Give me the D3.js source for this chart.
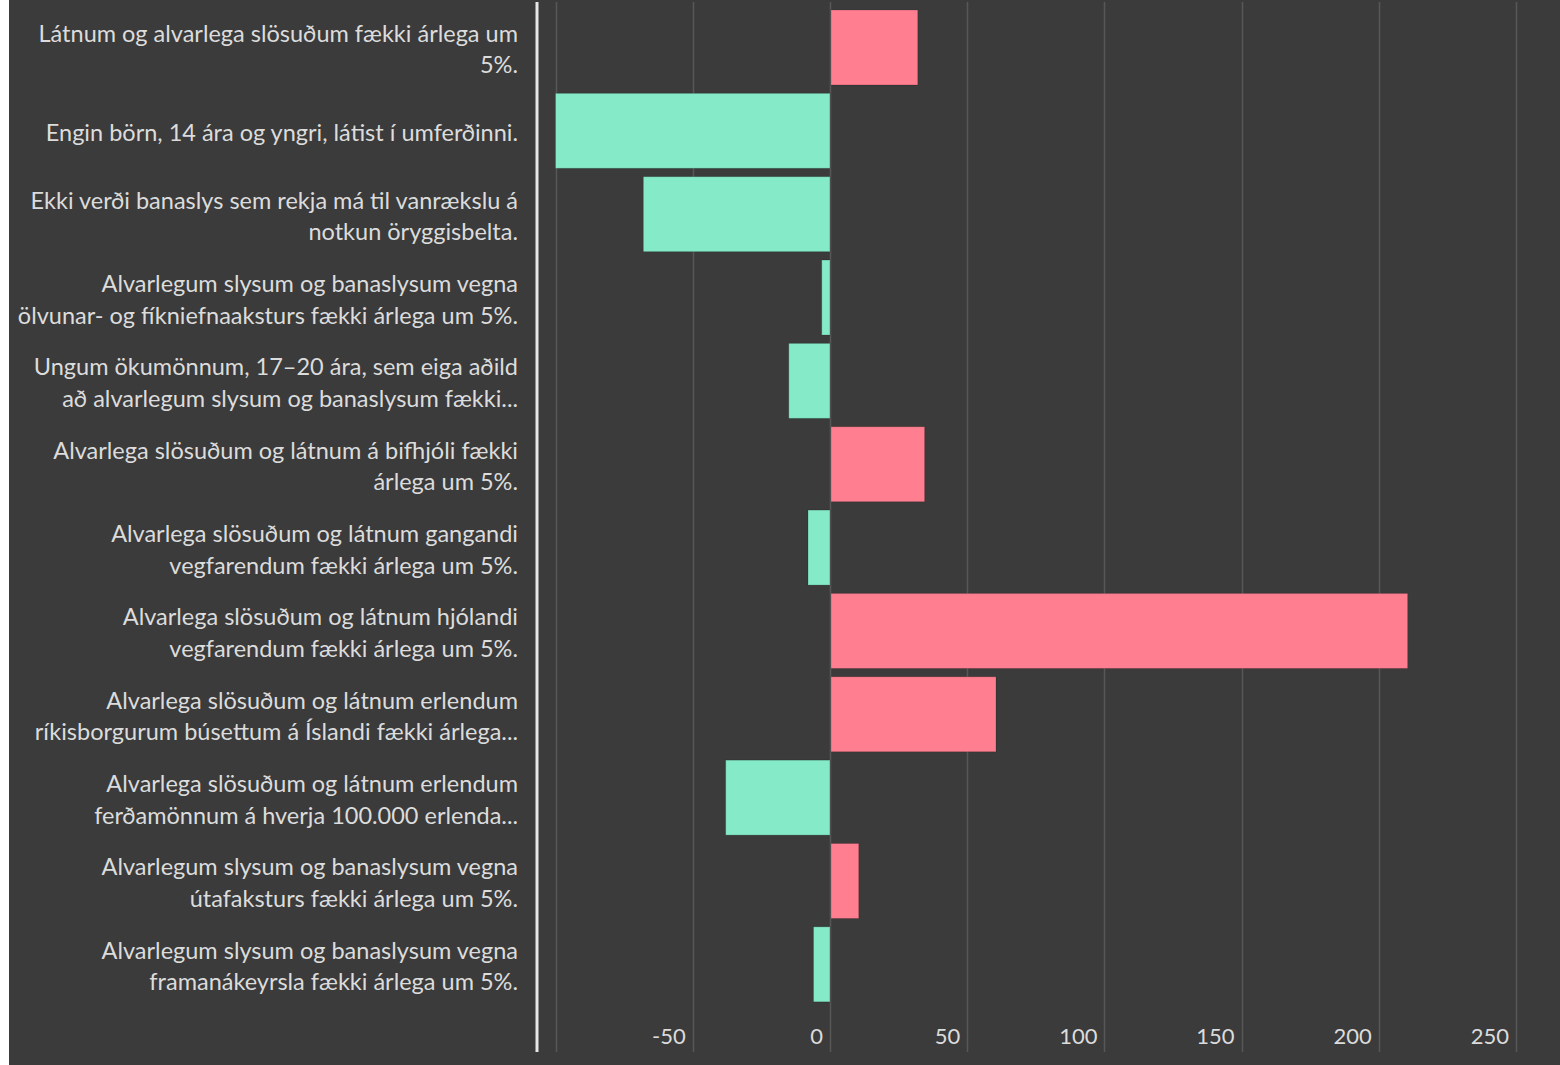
<!DOCTYPE html>
<html>
<head>
<meta charset="utf-8">
<script src="https://cdn.jsdelivr.net/npm/d3@7"></script>
<style>
  html, body { margin: 0; padding: 0; background: #fff; }
  svg { display: block; }
</style>
</head>
<body>
<script>
// targets (labels as shown, with line breaks) and the change values
var labels = [
    "Látnum og alvarlega slösuðum fækki árlega um\n5%.",
    "Engin börn, 14 ára og yngri, látist í umferðinni.",
    "Ekki verði banaslys sem rekja má til vanrækslu á\nnotkun öryggisbelta.",
    "Alvarlegum slysum og banaslysum vegna\nölvunar- og fíkniefnaaksturs fækki árlega um 5%.",
    "Ungum ökumönnum, 17–20 ára, sem eiga aðild\nað alvarlegum slysum og banaslysum fækki...",
    "Alvarlega slösuðum og látnum á bifhjóli fækki\nárlega um 5%.",
    "Alvarlega slösuðum og látnum gangandi\nvegfarendum fækki árlega um 5%.",
    "Alvarlega slösuðum og látnum hjólandi\nvegfarendum fækki árlega um 5%.",
    "Alvarlega slösuðum og látnum erlendum\nríkisborgurum búsettum á Íslandi fækki árlega...",
    "Alvarlega slösuðum og látnum erlendum\nferðamönnum á hverja 100.000 erlenda...",
    "Alvarlegum slysum og banaslysum vegna\nútafaksturs fækki árlega um 5%.",
    "Alvarlegum slysum og banaslysum vegna\nframanákeyrsla fækki árlega um 5%."
];
var values = [32, -100, -68, -3, -15, 34.5, -8, 210.5, 60.5, -38, 10.5, -6];
var xTicks = [-50, 0, 50, 100, 150, 200, 250];
var gridTicks = [-100, -50, 0, 50, 100, 150, 200, 250];

var W = 1560, H = 1065;
var bg = '#3b3b3b';

var svg = d3.select('body').append('svg')
    .attr('width', W)
    .attr('height', H);

svg.append('rect')
    .attr('x', 9).attr('y', 0)
    .attr('width', W - 9).attr('height', H)
    .attr('fill', bg);

var x = d3.scaleLinear()
    .domain([-100, 266])
    .range([555.5, 1560]);

var y = d3.scaleBand()
    .domain(labels.map(function (d, i) { return i; }))
    .range([5.8, 1006])
    .paddingInner(0.1)
    .paddingOuter(0.05);

// grid
svg.append('g').selectAll('line')
    .data(gridTicks)
    .enter()
    .append('line')
    .attr('x1', function (d) { return Math.round(x(d)) + 0.5; })
    .attr('x2', function (d) { return Math.round(x(d)) + 0.5; })
    .attr('y1', 2)
    .attr('y2', 1052)
    .attr('stroke', '#575757')
    .attr('stroke-width', 1.5);

// bars
svg.append('g').selectAll('rect')
    .data(values)
    .enter()
    .append('rect')
    .attr('x', function (d) { return d >= 0 ? x(0) + 1 : x(d); })
    .attr('y', function (d, i) { return y(i); })
    .attr('width', function (d) { return Math.abs(x(d) - x(0)) - (d >= 0 ? 1 : 0); })
    .attr('height', y.bandwidth())
    .attr('fill', function (d) { return d >= 0 ? '#ff7f91' : '#85eac8'; })
    .attr('stroke', 'rgba(0,0,0,0.18)')
    .attr('stroke-width', 1);

// axis line on the left of the plot
svg.append('line')
    .attr('x1', 537).attr('x2', 537)
    .attr('y1', 2).attr('y2', 1052)
    .attr('stroke', '#e6e6e6')
    .attr('stroke-width', 3);

// x tick labels
svg.append('g').selectAll('text')
    .data(xTicks)
    .enter()
    .append('text')
    .attr('x', function (d) { return x(d) - 7; })
    .attr('y', 1044)
    .attr('text-anchor', 'end')
    .attr('font-family', 'Lato, "Open Sans", sans-serif')
    .attr('font-size', 22)
    .attr('fill', '#dcdcdc')
    .text(function (d) { return d; });

// category labels
var lab = svg.append('g').selectAll('text')
    .data(labels)
    .enter()
    .append('text')
    .attr('text-anchor', 'end')
    .attr('font-family', 'Lato, "Open Sans", sans-serif')
    .attr('font-size', 23.5)
    .attr('fill', '#dcdcdc');

lab.each(function (d, i) {
    var lines = d.split('\n');
    var cy = y(i) + y.bandwidth() / 2 + 2;
    var lh = 31.5;
    var top = cy - (lines.length - 1) * lh / 2;
    var t = d3.select(this);
    lines.forEach(function (s, k) {
        t.append('tspan')
            .attr('x', 518)
            .attr('y', top + k * lh)
            .attr('dy', '0.35em')
            .text(s);
    });
});
</script>
</body>
</html>
